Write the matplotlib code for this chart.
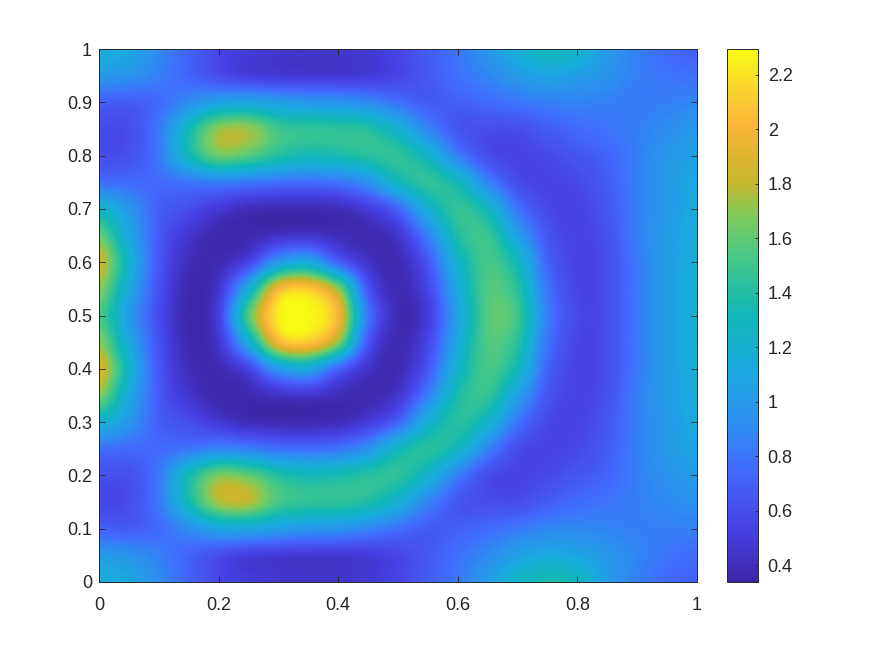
import numpy as np
import matplotlib
matplotlib.use('Agg')
import matplotlib.pyplot as plt
from matplotlib.colors import LinearSegmentedColormap

plt.rcParams['font.family'] = ['Liberation Sans', 'DejaVu Sans']

# valores, de y=1 (topo) ate y=0, x de 0 a 1 a cada 0.05
row_100 = [1.18, 1.10, 0.90, 0.72, 0.57, 0.50, 0.46, 0.45, 0.45, 0.48, 0.56, 0.68, 0.80, 0.98, 1.18, 1.30, 1.25, 1.00, 0.85, 0.75, 0.70]
row_095 = [1.00, 0.95, 0.85, 0.72, 0.60, 0.52, 0.49, 0.48, 0.48, 0.50, 0.56, 0.66, 0.78, 0.88, 1.00, 1.08, 1.03, 0.95, 0.85, 0.80, 0.78]
row_090 = [0.70, 0.68, 0.75, 0.92, 1.05, 1.08, 1.02, 0.98, 0.96, 0.90, 0.78, 0.68, 0.70, 0.75, 0.80, 0.85, 0.87, 0.85, 0.83, 0.85, 0.88]
row_085 = [0.58, 0.60, 0.82, 1.30, 1.70, 1.72, 1.50, 1.45, 1.44, 1.40, 1.20, 0.88, 0.65, 0.60, 0.60, 0.68, 0.75, 0.80, 0.85, 0.92, 1.00]
row_080 = [0.60, 0.62, 0.82, 1.30, 1.62, 1.56, 1.40, 1.32, 1.35, 1.42, 1.45, 1.25, 0.85, 0.60, 0.55, 0.58, 0.65, 0.72, 0.85, 0.98, 1.05]
row_075 = [0.78, 0.75, 0.75, 0.80, 0.85, 0.82, 0.78, 0.76, 0.80, 0.95, 1.28, 1.45, 1.30, 0.88, 0.60, 0.55, 0.58, 0.68, 0.85, 1.00, 1.10]
row_070 = [1.25, 0.98, 0.70, 0.60, 0.48, 0.40, 0.38, 0.38, 0.40, 0.50, 0.72, 1.18, 1.46, 1.28, 0.80, 0.58, 0.55, 0.65, 0.85, 1.00, 1.12]
row_065 = [1.62, 1.10, 0.68, 0.46, 0.36, 0.37, 0.43, 0.45, 0.40, 0.37, 0.46, 0.85, 1.38, 1.48, 1.05, 0.65, 0.55, 0.62, 0.85, 1.02, 1.15]
row_060 = [1.85, 1.22, 0.66, 0.40, 0.38, 0.55, 1.00, 1.12, 0.72, 0.44, 0.38, 0.65, 1.22, 1.52, 1.30, 0.72, 0.55, 0.60, 0.82, 1.02, 1.16]
row_055 = [1.70, 1.12, 0.63, 0.37, 0.46, 1.15, 2.00, 2.10, 1.70, 0.65, 0.38, 0.56, 1.12, 1.55, 1.42, 0.80, 0.56, 0.60, 0.82, 1.02, 1.17]
row_050 = [1.55, 1.02, 0.60, 0.36, 0.52, 1.55, 2.24, 2.29, 2.00, 0.82, 0.38, 0.50, 1.05, 1.56, 1.50, 0.85, 0.58, 0.60, 0.82, 1.02, 1.18]
row_045 = [1.70, 1.12, 0.63, 0.37, 0.46, 1.15, 2.00, 2.10, 1.70, 0.65, 0.38, 0.56, 1.12, 1.55, 1.42, 0.80, 0.56, 0.60, 0.82, 1.02, 1.17]
row_040 = [1.90, 1.24, 0.66, 0.40, 0.38, 0.55, 1.00, 1.12, 0.72, 0.44, 0.38, 0.65, 1.22, 1.52, 1.30, 0.72, 0.55, 0.60, 0.82, 1.02, 1.16]
row_035 = [1.68, 1.12, 0.68, 0.46, 0.36, 0.37, 0.43, 0.45, 0.40, 0.37, 0.46, 0.85, 1.36, 1.46, 1.05, 0.65, 0.55, 0.62, 0.85, 1.02, 1.15]
row_030 = [1.22, 0.98, 0.70, 0.60, 0.48, 0.40, 0.38, 0.38, 0.40, 0.50, 0.72, 1.18, 1.42, 1.24, 0.80, 0.58, 0.55, 0.65, 0.85, 1.00, 1.12]
row_025 = [0.78, 0.75, 0.75, 0.80, 0.88, 0.85, 0.78, 0.76, 0.80, 0.95, 1.28, 1.42, 1.28, 0.88, 0.60, 0.55, 0.58, 0.68, 0.85, 1.00, 1.08]
row_020 = [0.62, 0.62, 0.82, 1.32, 1.66, 1.60, 1.40, 1.32, 1.35, 1.42, 1.44, 1.22, 0.85, 0.60, 0.55, 0.58, 0.65, 0.72, 0.85, 0.95, 1.02]
row_015 = [0.56, 0.60, 0.82, 1.32, 1.75, 1.78, 1.52, 1.45, 1.44, 1.38, 1.18, 0.88, 0.65, 0.60, 0.60, 0.68, 0.75, 0.80, 0.85, 0.90, 0.95]
row_010 = [0.70, 0.68, 0.75, 0.92, 1.08, 1.10, 1.04, 0.98, 0.96, 0.88, 0.78, 0.68, 0.70, 0.75, 0.82, 0.88, 0.90, 0.87, 0.85, 0.85, 0.85]
row_005 = [1.00, 0.95, 0.85, 0.72, 0.60, 0.52, 0.49, 0.48, 0.48, 0.50, 0.56, 0.66, 0.78, 0.90, 1.05, 1.12, 1.08, 0.98, 0.88, 0.80, 0.76]
row_000 = [1.18, 1.10, 0.92, 0.72, 0.57, 0.50, 0.46, 0.45, 0.45, 0.48, 0.56, 0.68, 0.82, 1.02, 1.25, 1.35, 1.30, 1.02, 0.85, 0.75, 0.70]

linhas = [row_100, row_095, row_090, row_085, row_080, row_075, row_070,
          row_065, row_060, row_055, row_050, row_045, row_040, row_035,
          row_030, row_025, row_020, row_015, row_010, row_005, row_000]

ticks_eixo = [0, 0.2, 0.4, 0.6, 0.8, 1]
ticks_y = [0, 0.1, 0.2, 0.3, 0.4, 0.5, 0.6, 0.7, 0.8, 0.9, 1]
ticks_barra = [0.4, 0.6, 0.8, 1, 1.2, 1.4, 1.6, 1.8, 2, 2.2]
vmin, vmax = 0.338, 2.294

# parula aproximado
cores = [(0.00, (0.2422, 0.1504, 0.6603)), (0.10, (0.2780, 0.2560, 0.8990)),
         (0.20, (0.2650, 0.4000, 0.9930)), (0.30, (0.1720, 0.5650, 0.9400)),
         (0.40, (0.1050, 0.6670, 0.8730)), (0.50, (0.0600, 0.7200, 0.7200)),
         (0.60, (0.2500, 0.7800, 0.5500)), (0.68, (0.4800, 0.8000, 0.3800)),
         (0.75, (0.7700, 0.7200, 0.1800)), (0.80, (0.8700, 0.7000, 0.1800)),
         (0.86, (0.9900, 0.7100, 0.2300)), (0.93, (0.9800, 0.8400, 0.1800)),
         (1.00, (0.9769, 0.9839, 0.0805))]
parula = LinearSegmentedColormap.from_list('parula', cores, N=256)

campo = np.array(linhas)
cor_texto = '#262626'

fig = plt.figure(figsize=(8.75, 6.56), dpi=100)
ax = fig.add_axes([99 / 875, 1 - 582 / 656, 598 / 875, 533 / 656])
img = ax.imshow(campo, cmap=parula, vmin=vmin, vmax=vmax, aspect='auto',
                interpolation='catrom', extent=[-0.025, 1.025, -0.025, 1.025])
ax.set_xlim(0, 1)
ax.set_ylim(0, 1)
ax.set_xticks(ticks_eixo)
ax.set_xticklabels(['0', '0.2', '0.4', '0.6', '0.8', '1'])
ax.set_yticks(ticks_y)
ax.set_yticklabels(['0', '0.1', '0.2', '0.3', '0.4', '0.5', '0.6', '0.7', '0.8', '0.9', '1'])
ax.tick_params(direction='in', length=4, width=0.6, top=True, right=True,
               labelsize=13, colors=cor_texto)
ax.tick_params(axis='x', pad=11)
ax.tick_params(axis='y', pad=5)
for s in ax.spines.values():
    s.set_linewidth(0.7)
    s.set_color(cor_texto)

cax = fig.add_axes([727 / 875, 1 - 582 / 656, 31 / 875, 533 / 656])
cb = fig.colorbar(img, cax=cax)
cb.set_ticks(ticks_barra)
cb.set_ticklabels(['0.4', '0.6', '0.8', '1', '1.2', '1.4', '1.6', '1.8', '2', '2.2'])
cb.ax.tick_params(direction='in', length=2.2, width=0.6, labelsize=13, colors=cor_texto, pad=7)
cb.outline.set_linewidth(0.7)
cb.outline.set_edgecolor(cor_texto)

fig.savefig('out.png', dpi=100)
